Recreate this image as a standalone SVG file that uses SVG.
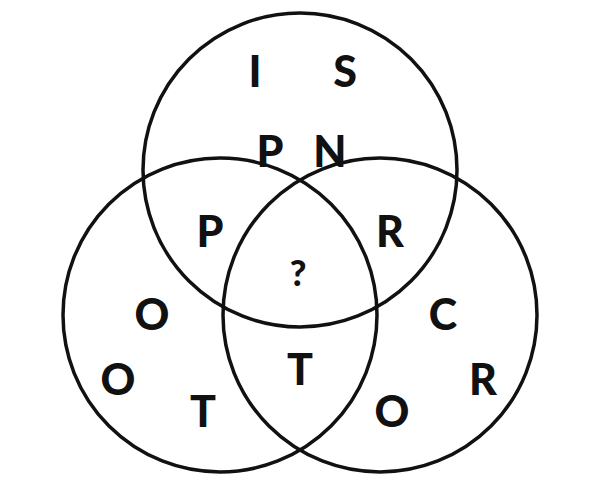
<svg xmlns="http://www.w3.org/2000/svg" width="600" height="500" viewBox="0 0 600 500">
<style>
circle{fill:none;stroke:#111;stroke-width:3.5}
text{font-family:"Lato","Liberation Sans",sans-serif;font-weight:900;font-size:43px;fill:#111;text-anchor:middle;dominant-baseline:central}
</style>
<rect width="600" height="500" fill="#fff"/>
<g id="circles">
<circle id="top" cx="300" cy="170" r="157"/>
<circle id="left" cx="220" cy="315" r="157"/>
<circle id="right" cx="380" cy="315" r="157"/>
</g>
<g id="letters">
<text x="255" y="70">I</text>
<text x="345" y="70">S</text>
<text x="270" y="150">P</text>
<text x="330" y="150">N</text>
<text x="210" y="230">P</text>
<text x="390" y="230">R</text>
<text x="298" y="272" style="font-size:36px">?</text>
<text x="152" y="313">O</text>
<text x="443" y="313">C</text>
<text x="118" y="378">O</text>
<text x="300" y="368">T</text>
<text x="483" y="378">R</text>
<text x="203" y="410">T</text>
<text x="392" y="410">O</text>
</g>
</svg>
